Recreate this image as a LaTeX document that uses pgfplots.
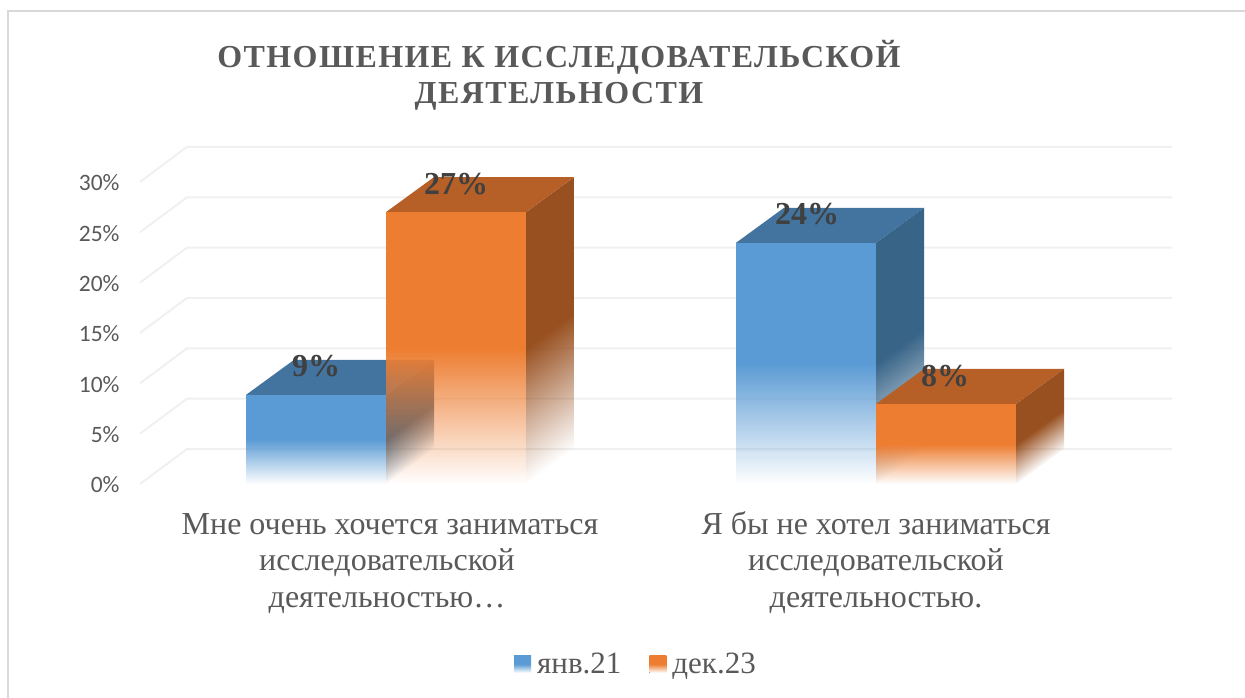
\documentclass[border=0pt]{standalone}
\usepackage{fontspec}
\setmainfont{Liberation Serif}
\newfontfamily\tickfont{Carlito}
\newfontfamily\titlefont[LetterSpace=4.4]{Liberation Serif}
\usepackage{pgfplots}
\pgfplotsset{compat=1.18}
\usetikzlibrary{fadings}
\definecolor{txt}{HTML}{595959}
\definecolor{gridc}{HTML}{F0F0F0}
\definecolor{bF}{HTML}{5B9BD5}\definecolor{bT}{HTML}{43739F}\definecolor{bS}{HTML}{386488}
\definecolor{oF}{HTML}{ED7D31}\definecolor{oT}{HTML}{B65F26}\definecolor{oS}{HTML}{985020}
\tikzfading[name=halffade, top color=transparent!0, bottom color=transparent!100, middle color=transparent!0]
\pgfdeclareverticalshading{sideTallShade}{100bp}{color(0bp)=(black); color(28bp)=(black); color(50bp)=(white); color(100bp)=(white)}
\pgfdeclareverticalshading{sideShortShade}{100bp}{color(0bp)=(black); color(32.3bp)=(black); color(50bp)=(white); color(100bp)=(white)}
\pgfdeclarefading{sideTall}{\pgfuseshading{sideTallShade}}
\pgfdeclarefading{sideShort}{\pgfuseshading{sideShortShade}}
\pgfplotsset{
 frontface/.style={draw=none, fill=#1, forget plot, /tikz/path fading=halffade},
 topface/.style={draw=none, fill=#1, forget plot},
}
\begin{document}
\begin{tikzpicture}
\path[use as bounding box] (-140pt,-213pt) rectangle (1105pt,484pt);
\draw[color=black!15, line width=2pt] (-132pt,-220pt) -- (-132pt,473pt) -- (1110pt,473pt);
\begin{axis}[
  at={(0pt,0pt)}, anchor=south west, scale only axis,
  width=1032pt, height=338.35pt,
  xmin=140, xmax=1172, ymin=0, ymax=33.6,
  clip=false,
  axis line style={draw=none}, major tick length=0pt,
  xtick={387,876},
  xticklabels={{\strut\hspace{6pt}Мне очень хочется заниматься\\исследовательской\\деятельностью…},{\strut Я бы не хотел заниматься\\исследовательской\\деятельностью.}},
  x tick label style={align=center, font=\fontsize{32}{36.5}\selectfont, text=txt, yshift=-21pt},
  ytick={0,5,10,15,20,25,30},
  yticklabel={\pgfmathprintnumber{\tick}\%},
  /pgf/number format/assume math mode=true,
  y tick label style={font=\fontsize{23.5}{23.5}\tickfont, text=txt, xshift=-17pt, yshift=-1pt},
  legend style={draw=none, fill=none, at={(axis cs:636,-17.9)}, anchor=center,
    font=\fontsize{31}{31}\selectfont, text=txt, legend columns=2, column sep=4pt,
    /tikz/every even column/.style={column sep=26pt}},
  legend cell align=left,
  title style={at={(axis cs:559,40.0)}, anchor=center, align=center, font=\fontsize{32}{36}\titlefont\bfseries, text=txt},
  title={ОТНОШЕНИЕ К ИССЛЕДОВАТЕЛЬСКОЙ\\ДЕЯТЕЛЬНОСТИ},
]
% grid
\addplot[gridc, line width=2pt, forget plot] coordinates {(140,0)(187,3.476)(1172,3.476)};
\addplot[gridc, line width=2pt, forget plot] coordinates {(140,5)(187,8.476)(1172,8.476)};
\addplot[gridc, line width=2pt, forget plot] coordinates {(140,10)(187,13.476)(1172,13.476)};
\addplot[gridc, line width=2pt, forget plot] coordinates {(140,15)(187,18.476)(1172,18.476)};
\addplot[gridc, line width=2pt, forget plot] coordinates {(140,20)(187,23.476)(1172,23.476)};
\addplot[gridc, line width=2pt, forget plot] coordinates {(140,25)(187,28.476)(1172,28.476)};
\addplot[gridc, line width=2pt, forget plot] coordinates {(140,30)(187,33.476)(1172,33.476)};
% blue 1
\addplot[draw=none, fill=bS, forget plot, /tikz/path fading=sideShort, /tikz/fading transform={yslant=0.282}] coordinates {(386,0)(434,3.476)(434,12.326)(386,8.85)} -- cycle;
\addplot[topface=bT] coordinates {(246,8.85)(386,8.85)(434,12.326)(294,12.326)} -- cycle;
\addplot[frontface=bF] coordinates {(246,0)(386,0)(386,8.85)(246,8.85)} -- cycle;
% blue 2
\addplot[draw=none, fill=bS, forget plot, /tikz/path fading=sideTall, /tikz/fading transform={yslant=0.1268}] coordinates {(876,0)(924,3.476)(924,27.426)(876,23.95)} -- cycle;
\addplot[topface=bT] coordinates {(736,23.95)(876,23.95)(924,27.426)(784,27.426)} -- cycle;
\addplot[frontface=bF] coordinates {(736,0)(876,0)(876,23.95)(736,23.95)} -- cycle;
% orange 1
\addplot[draw=none, fill=oS, forget plot, /tikz/path fading=sideTall, /tikz/fading transform={yslant=0.114}] coordinates {(526,0)(574,3.476)(574,30.476)(526,27)} -- cycle;
\addplot[topface=oT] coordinates {(386,27)(526,27)(574,30.476)(434,30.476)} -- cycle;
\addplot[frontface=oF] coordinates {(386,0)(526,0)(526,27)(386,27)} -- cycle;
% orange 2
\addplot[draw=none, fill=oS, forget plot, /tikz/path fading=sideShort, /tikz/fading transform={yslant=0.304}] coordinates {(1016,0)(1064,3.476)(1064,11.426)(1016,7.95)} -- cycle;
\addplot[topface=oT] coordinates {(876,7.95)(1016,7.95)(1064,11.426)(924,11.426)} -- cycle;
\addplot[frontface=oF] coordinates {(876,0)(1016,0)(1016,7.95)(876,7.95)} -- cycle;
% data labels
\addplot[draw=none, forget plot, point meta=explicit symbolic,
  nodes near coords, nodes near coords align={anchor=center},
  every node near coord/.append style={font=\fontsize{32}{32}\selectfont\bfseries, text=black!75, inner sep=0pt}]
  coordinates {(316,11.75)[9\%] (456,29.8)[27\%] (807,26.8)[24\%] (945,10.75)[8\%]};
% legend
\addlegendimage{legend image code/.code={\fill[draw=none, top color=bF, bottom color=white, middle color=bF] (0pt,-8.5pt) rectangle (17pt,8.5pt);}}
\addlegendentry{янв.21}
\addlegendimage{legend image code/.code={\fill[draw=none, top color=oF, bottom color=white, middle color=oF] (0pt,-8.5pt) rectangle (17pt,8.5pt);}}
\addlegendentry{дек.23}
\end{axis}
\end{tikzpicture}
\end{document}
